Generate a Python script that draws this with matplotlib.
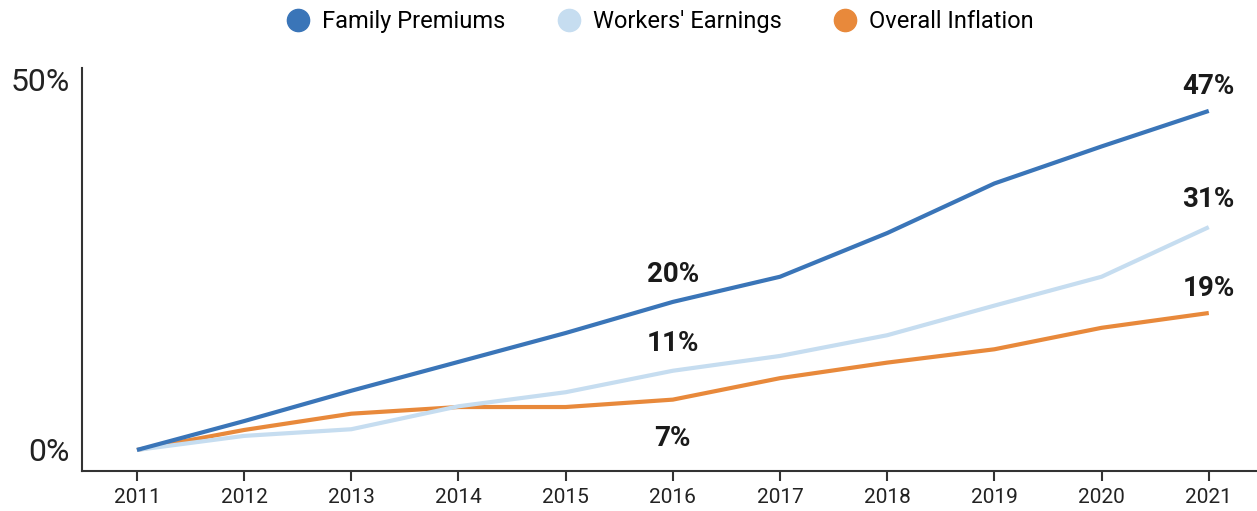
import matplotlib.pyplot as plt
from matplotlib.lines import Line2D

plt.rcParams['font.family'] = ['Roboto', 'DejaVu Sans']

years = [2011, 2012, 2013, 2014, 2015, 2016, 2017, 2018, 2019, 2020, 2021]
family_premiums = [0, 3.9, 8.0, 11.9, 15.8, 20.0, 23.4, 29.3, 36.0, 41.0, 45.8]
workers_earnings = [0, 1.9, 2.8, 5.9, 7.8, 10.7, 12.7, 15.5, 19.5, 23.4, 30.1]
overall_inflation = [0, 2.7, 4.9, 5.8, 5.8, 6.8, 9.7, 11.8, 13.6, 16.5, 18.5]

series_names = ["Family Premiums", "Workers' Earnings", "Overall Inflation"]
colors = ["#3a75b8", "#c6ddf0", "#e8893b"]

# (series index, year, label text, offset in points)
callouts = [
    (0, 2016, "20%", 10),
    (1, 2016, "11%", 10),
    (2, 2016, "7%", -18),
    (0, 2021, "47%", 8),
    (1, 2021, "31%", 10),
    (2, 2021, "19%", 8),
]

fig = plt.figure(figsize=(12.57, 5.11), dpi=100)
ax = fig.add_axes([0.0652, 0.0783, 0.9348, 0.7887])

all_series = [family_premiums, workers_earnings, overall_inflation]
# draw inflation first so blue lines sit on top like the original
for i in [2, 1, 0]:
    ax.plot(years, all_series[i], color=colors[i], lw=3.0, solid_capstyle='butt', zorder=3 + (2 - i))

for idx, yr, txt, off in callouts:
    yv = all_series[idx][years.index(yr)]
    ax.annotate(txt, (yr, yv), xytext=(0, off), textcoords='offset points',
                ha='center', va='bottom' if off > 0 else 'top',
                fontsize=20, fontweight='bold', color='#1a1a1a')

ax.set_xlim(2010.487, 2021.45)
ax.set_ylim(-2.84, 51.6)
ax.set_xticks(years)
ax.set_xticklabels([str(y) for y in years])
ax.set_yticks([0, 50])
ax.set_yticklabels(["0%", "50%"])

ax.tick_params(axis='x', length=7, width=1.5, color='#333333', labelsize=15,
               labelcolor='#222222', pad=5)
ax.tick_params(axis='y', length=0, labelsize=23, labelcolor='#222222', pad=9)

for s in ['top', 'right']:
    ax.spines[s].set_visible(False)
for s in ['left', 'bottom']:
    ax.spines[s].set_color('#333333')
    ax.spines[s].set_linewidth(1.5)

handles = [Line2D([], [], marker='o', ls='', markersize=16, markerfacecolor=c,
                  markeredgecolor=c) for c in colors]
fig.legend(handles, series_names, loc='upper center', bbox_to_anchor=(0.525, 1.013),
           ncol=3, frameon=False, fontsize=17, handlelength=1.0, handletextpad=0.5,
           columnspacing=2.2, borderaxespad=0.3)

fig.savefig("out.png", dpi=100)
